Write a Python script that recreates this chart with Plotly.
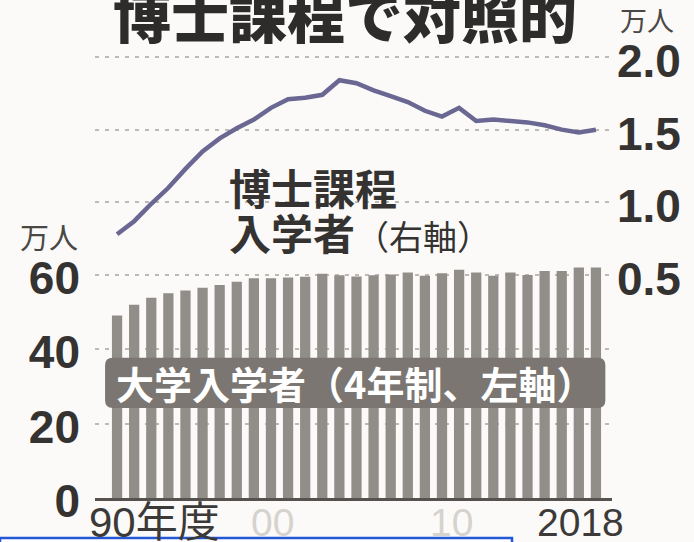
import plotly.graph_objects as go

# 年度
years = list(range(1990, 2019))

# 大学入学者（4年制）, 万人 — left axis
univ_entrants = [49.1, 52.0, 53.9, 55.1, 55.8, 56.6, 57.3, 58.2, 59.1, 59.1,
                 59.3, 59.5, 60.3, 59.9, 59.6, 59.9, 60.1, 60.7, 59.8, 60.5,
                 61.4, 60.7, 59.8, 60.7, 60.0, 61.1, 61.1, 62.0, 62.0]

# 博士課程入学者, 万人 — right axis
doctoral_entrants = [0.78, 0.87, 0.99, 1.10, 1.23, 1.35, 1.44, 1.51, 1.57, 1.65,
                     1.71, 1.72, 1.74, 1.84, 1.82, 1.77, 1.73, 1.69, 1.63, 1.59,
                     1.65, 1.56, 1.57, 1.56, 1.55, 1.53, 1.50, 1.48, 1.50]

left_ticks = [0, 20, 40, 60]
right_ticks = [0.5, 1.0, 1.5, 2.0]
right_ticktext = ["0.5", "1.0", "1.5", "2.0"]

x_labels = [(1990, "90年度"), (2000, "00"), (2010, "10"), (2018, "2018")]

W, H = 694, 542
M = dict(l=95, r=82, t=48, b=44)
PLOT_H = H - M["t"] - M["b"]          # 450 px
PLOT_W = W - M["l"] - M["r"]          # 517 px

JP = "Noto Sans CJK JP"
NUM = "Liberation Sans, Arial, " + JP
INK = "#353331"
GRID = "#bdb9b4"
BAR = "#918d88"
LINE = "#6a6893"
BOX = "#7b7672"

fig = go.Figure()

fig.add_trace(go.Bar(
    x=years, y=univ_entrants, yaxis="y",
    marker=dict(color=BAR, line=dict(width=0)),
    width=0.6, hoverinfo="skip", showlegend=False,
))

fig.add_trace(go.Scatter(
    x=years, y=doctoral_entrants, yaxis="y2", mode="lines",
    line=dict(color=LINE, width=4.5), hoverinfo="skip", showlegend=False,
))

# rounded label box behind the bar-series caption
bx0, bx1, by0, by1 = 1989.3, 2018.55, 24.2, 37.7
rx, ry = 0.45, 2.0
path = (f"M {bx0+rx},{by0} L {bx1-rx},{by0} Q {bx1},{by0} {bx1},{by0+ry} "
        f"L {bx1},{by1-ry} Q {bx1},{by1} {bx1-rx},{by1} "
        f"L {bx0+rx},{by1} Q {bx0},{by1} {bx0},{by1-ry} "
        f"L {bx0},{by0+ry} Q {bx0},{by0} {bx0+rx},{by0} Z")
shapes = [
    dict(type="path", path=path, xref="x", yref="y",
         fillcolor=BOX, line=dict(width=0), layer="above"),
    # blue frame along the bottom edge
    dict(type="rect", xref="paper", yref="paper",
         x0=-M["l"] / PLOT_W, x1=(512 - M["l"]) / PLOT_W,
         y0=-40 / PLOT_H, y1=-50 / PLOT_H,
         fillcolor="#ffffff", line=dict(color="#2457d6", width=2.5)),
]

annotations = [
    dict(text="博士課程で対照的", xref="paper", yref="paper",
         x=(345 - M["l"]) / PLOT_W, y=1, yshift=35,
         xanchor="center", yanchor="middle", showarrow=False,
         font=dict(family=JP, size=58, color="#2e2c2a", weight=900)),
    dict(text="万人", xref="paper", yref="paper", x=1, y=1, xshift=35, yshift=29,
         xanchor="center", yanchor="middle", showarrow=False,
         font=dict(family=JP, size=27, color="#4a4845")),
    dict(text="万人", xref="paper", yref="paper", x=0, y=(498 - 236) / PLOT_H,
         xshift=-46, xanchor="center", yanchor="middle", showarrow=False,
         font=dict(family=JP, size=29, color="#4a4845")),
    dict(text="博士課程", xref="x", yref="y2", x=1996.45, y=1.11,
         xanchor="left", yanchor="middle", showarrow=False,
         font=dict(family=JP, size=42, color=INK, weight=700)),
    dict(text="入学者<span style='font-size:34px;font-weight:400'>（右軸）</span>",
         xref="x", yref="y2", x=1996.45, y=0.80,
         xanchor="left", yanchor="middle", showarrow=False,
         font=dict(family=JP, size=42, color=INK, weight=700)),
    dict(text="大学入学者（4年制、左軸）", xref="x", yref="y",
         x=(bx0 + bx1) / 2, y=(by0 + by1) / 2,
         xanchor="center", yanchor="middle", showarrow=False,
         font=dict(family=JP, size=38, color="#ffffff", weight=700)),
]

x_label_style = {
    1990: dict(xanchor="left", xshift=-30, color="#3c3a38", size=42),
    2000: dict(xanchor="center", xshift=-16, color="#d6d2ce", size=39),
    2010: dict(xanchor="center", xshift=-8, color="#d6d2ce", size=39),
    2018: dict(xanchor="right", xshift=30, color="#3c3a38", size=39),
}
for yr, txt in x_labels:
    st = x_label_style[yr]
    annotations.append(dict(
        text=txt, xref="x", yref="paper", x=yr, y=0, yshift=-24,
        xanchor=st["xanchor"], xshift=st["xshift"], yanchor="middle",
        showarrow=False, font=dict(family=NUM, size=st["size"], color=st["color"]),
    ))

fig.update_layout(
    width=W, height=H, margin=M,
    paper_bgcolor="#fbfaf8", plot_bgcolor="#fbfaf8",
    xaxis=dict(range=[1988.71, 2018.94], showgrid=False, zeroline=False,
               showticklabels=False, ticks="",
               showline=True, linecolor="#55524f", linewidth=2.5),
    yaxis=dict(range=[0, 121.07], tickvals=left_ticks, ticks="", zeroline=False,
               showgrid=True, gridcolor=GRID, gridwidth=2, griddash="4px,6px",
               tickfont=dict(family=NUM, size=46, color=INK, weight=700),
               ticklabelstandoff=14, ticklabelshift=3),
    yaxis2=dict(range=[-1.035, 2.062], overlaying="y", side="right",
                tickvals=right_ticks, ticktext=right_ticktext, ticks="",
                zeroline=False, showgrid=True, gridcolor=GRID, gridwidth=2,
                griddash="4px,6px",
                tickfont=dict(family=NUM, size=46, color=INK, weight=700),
                ticklabelstandoff=4, ticklabelshift=4),
    shapes=shapes,
    annotations=annotations,
)

fig.write_html("out.html")
